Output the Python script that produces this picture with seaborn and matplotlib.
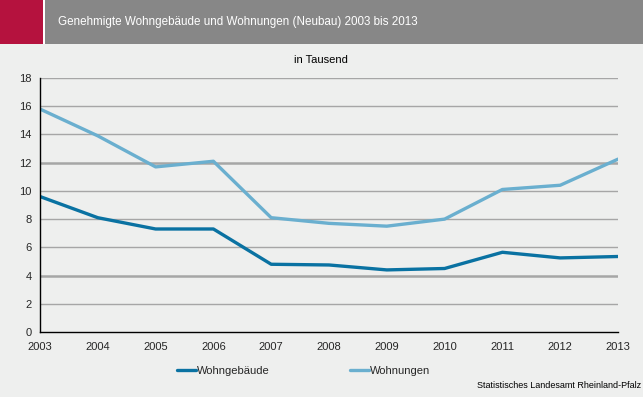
import matplotlib
matplotlib.use("Agg")
import matplotlib.pyplot as plt
import pandas as pd
import seaborn as sns
from matplotlib.patches import Rectangle

# ── Data (in Tausend) ─────────────────────────────────────────────────────────
years        = [2003, 2004, 2005, 2006, 2007, 2008, 2009, 2010, 2011, 2012, 2013]
wohngebaeude = [9.6, 8.1, 7.3, 7.3, 4.8, 4.75, 4.4, 4.5, 5.65, 5.25, 5.35]
wohnungen    = [15.8, 13.9, 11.7, 12.1, 8.1, 7.7, 7.5, 8.0, 10.1, 10.4, 12.25]
series_names = ["Wohngebäude", "Wohnungen"]
colors       = ["#0A72A2", "#6AAFCF"]

TITLE    = "Genehmigte Wohngebäude und Wohnungen (Neubau) 2003 bis 2013"
SUBTITLE = "in Tausend"
SOURCE   = "Statistisches Landesamt Rheinland-Pfalz"

BG = "#EEEFEE"


def main():
    df = pd.DataFrame({
        "Jahr": years * 2,
        "Wert": wohngebaeude + wohnungen,
        "Reihe": [series_names[0]] * len(years) + [series_names[1]] * len(years),
    })

    sns.set_style("white")
    plt.rcParams["font.family"] = ["Liberation Sans", "DejaVu Sans"]

    fig = plt.figure(figsize=(6.43, 3.97), dpi=100, facecolor=BG)
    W, H = 643, 397

    # ── Header band ───────────────────────────────────────────────────────────
    fig.patches.append(Rectangle((0, 1 - 44 / H), 1, 44 / H, transform=fig.transFigure,
                                 facecolor="#878787", edgecolor="none", zorder=0))
    fig.patches.append(Rectangle((0, 1 - 44 / H), 43 / W, 44 / H, transform=fig.transFigure,
                                 facecolor="#B5123E", edgecolor="none", zorder=1))
    fig.patches.append(Rectangle((43 / W, 1 - 44 / H), 1.5 / W, 44 / H, transform=fig.transFigure,
                                 facecolor="white", edgecolor="none", zorder=1))
    fig.text(58 / W, 1 - 22 / H, TITLE, color="white", fontsize=8.4, va="center", ha="left")
    fig.text(321 / W, 1 - 60 / H, SUBTITLE, color="black", fontsize=8, va="center", ha="center")
    fig.text(641 / W, 1 - 385 / H, SOURCE, color="black", fontsize=6.5, va="center", ha="right")

    # ── Plot ──────────────────────────────────────────────────────────────────
    ax = fig.add_axes([40 / W, (H - 332) / H, (618 - 40) / W, (332 - 78) / H])
    ax.set_facecolor(BG)

    sns.lineplot(data=df, x="Jahr", y="Wert", hue="Reihe", palette=colors,
                 linewidth=2.4, ax=ax, legend=True)

    ax.set_xlim(2003, 2013)
    ax.set_ylim(0, 18)
    ax.set_xticks(years)
    ax.set_yticks(range(0, 19, 2))
    ax.tick_params(axis="both", labelsize=8, length=4, width=1, color="black",
                   direction="out", pad=2)
    ax.tick_params(axis="x", pad=3)

    for v in range(2, 19, 2):
        lw = 1.8 if v in (4, 12) else 1.0
        ax.axhline(v, color="#A6A6A6", linewidth=lw, zorder=0)

    for side in ["top", "right"]:
        ax.spines[side].set_visible(False)
    for side in ["left", "bottom"]:
        ax.spines[side].set_color("black")
        ax.spines[side].set_linewidth(1)
    ax.set_xlabel("")
    ax.set_ylabel("")

    ax.legend(loc="center left", bbox_to_anchor=(177 / W, 1 - 371 / H),
              bbox_transform=fig.transFigure, ncol=2, frameon=False,
              fontsize=8, handlelength=1.7, handletextpad=0.1,
              columnspacing=7.2, borderaxespad=0, borderpad=0)

    fig.savefig("out.png", dpi=100, facecolor=BG)


if __name__ == "__main__":
    main()
